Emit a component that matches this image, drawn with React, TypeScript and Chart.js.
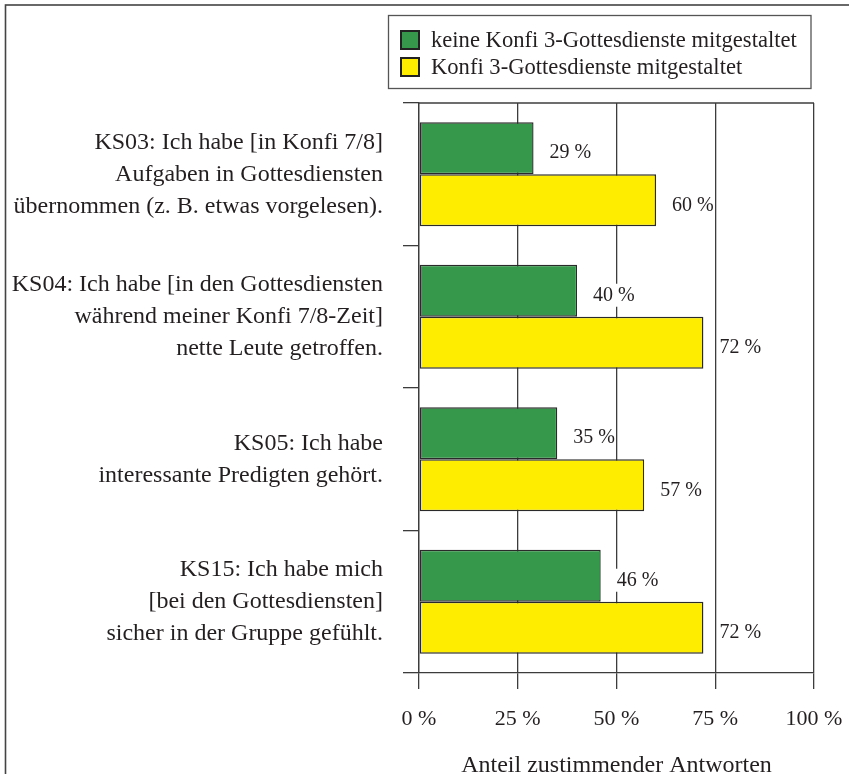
import { useEffect, useRef } from "react";
import { Chart, registerables } from "chart.js";

Chart.register(...registerables);

const categories: string[][] = [
  ["KS03: Ich habe [in Konfi 7/8]", "Aufgaben in Gottesdiensten", "übernommen (z. B. etwas vorgelesen)."],
  ["KS04: Ich habe [in den Gottesdiensten", "während meiner Konfi 7/8-Zeit]", "nette Leute getroffen."],
  ["KS05: Ich habe", "interessante Predigten gehört."],
  ["KS15: Ich habe mich", "[bei den Gottesdiensten]", "sicher in der Gruppe gefühlt."],
];
const seriesNames = ["keine Konfi 3-Gottesdienste mitgestaltet", "Konfi 3-Gottesdienste mitgestaltet"];
const noKonfi3Values = [29, 40, 35, 46];
const withKonfi3Values = [60, 72, 57, 72];
const xTickValues = [0, 25, 50, 75, 100];
const axisTitle = "Anteil zustimmender Antworten";

const FONT = '"Liberation Serif", "Times New Roman", serif';
const TEXT = "#231f20";
const LINE = "#3c3c3c";
const BAR_EDGE = "#2a2a2a";
const GREEN = "#36984a";
const YELLOW = "#ffed00";

const framePlugin = {
  id: "frame",
  beforeDraw(chart: any) {
    const { ctx, width, height } = chart;
    ctx.save();
    ctx.fillStyle = "#fff";
    ctx.fillRect(0, 0, width, height);
    ctx.strokeStyle = "#444";
    ctx.lineWidth = 1.6;
    ctx.strokeRect(5.5, 5, width + 20, height + 20);
    ctx.restore();
  },
  beforeDatasetsDraw(chart: any) {
    const { ctx, chartArea } = chart;
    ctx.save();
    ctx.strokeStyle = LINE;
    ctx.lineWidth = 1.3;
    ctx.beginPath();
    ctx.moveTo(chartArea.left, chartArea.top);
    ctx.lineTo(chartArea.right, chartArea.top);
    ctx.stroke();
    ctx.restore();
  },
};

const valueLabelPlugin = {
  id: "valueLabels",
  afterDatasetsDraw(chart: any) {
    const { ctx } = chart;
    ctx.save();
    ctx.font = `20px ${FONT}`;
    ctx.textBaseline = "middle";
    ctx.textAlign = "left";
    chart.data.datasets.forEach((ds: any, di: number) => {
      const meta = chart.getDatasetMeta(di);
      meta.data.forEach((bar: any, i: number) => {
        const txt = `${ds.data[i]} %`;
        const w = ctx.measureText(txt).width;
        const x = bar.x + 16;
        const y = bar.y + 5;
        ctx.fillStyle = "#fff";
        ctx.fillRect(x - 1, y - 12, w + 1.5, 23);
        ctx.fillStyle = TEXT;
        ctx.fillText(txt, x, y);
      });
    });
    ctx.restore();
  },
};

const legendPlugin = {
  id: "boxLegend",
  afterDraw(chart: any) {
    const { ctx, chartArea } = chart;
    const boxRight = chartArea.right - 3;
    const boxLeft = 388.5;
    const boxTop = 15.5;
    const boxH = 73;
    ctx.save();
    ctx.strokeStyle = "#555";
    ctx.lineWidth = 1.3;
    ctx.strokeRect(boxLeft, boxTop, boxRight - boxLeft, boxH);
    ctx.font = `22.6px ${FONT}`;
    ctx.textBaseline = "middle";
    ctx.textAlign = "left";
    chart.data.datasets.forEach((ds: any, i: number) => {
      const sy = 31 + i * 27;
      ctx.fillStyle = ds.backgroundColor;
      ctx.fillRect(401, sy, 18, 18);
      ctx.strokeStyle = "#222";
      ctx.lineWidth = 2;
      ctx.strokeRect(401, sy, 18, 18);
      ctx.fillStyle = TEXT;
      ctx.fillText(ds.label, 431, sy + 10);
    });
    ctx.restore();
  },
};

export default function App() {
  const ref = useRef<HTMLCanvasElement | null>(null);
  useEffect(() => {
    document.body.style.margin = "0";
    const canvas = ref.current;
    if (!canvas) return;
    const chart = new Chart(canvas, {
      type: "bar",
      data: {
        labels: categories,
        datasets: [
          {
            label: seriesNames[0],
            data: noKonfi3Values,
            backgroundColor: GREEN,
            borderColor: BAR_EDGE,
            borderWidth: 1.4,
            borderSkipped: false,
            categoryPercentage: 0.73,
            barPercentage: 1,
          },
          {
            label: seriesNames[1],
            data: withKonfi3Values,
            backgroundColor: YELLOW,
            borderColor: BAR_EDGE,
            borderWidth: 1.4,
            borderSkipped: false,
            categoryPercentage: 0.73,
            barPercentage: 1,
          },
        ],
      },
      options: {
        indexAxis: "y",
        responsive: false,
        animation: false,
        devicePixelRatio: 1,
        layout: { padding: { top: 103, right: 35, left: 0, bottom: 0 } },
        plugins: {
          legend: { display: false },
          tooltip: { enabled: false },
        },
        scales: {
          x: {
            type: "linear",
            min: 0,
            max: 100,
            afterBuildTicks(scale: any) {
              scale.ticks = xTickValues.map((v) => ({ value: v }));
            },
            afterFit(scale: any) {
              scale.height = 101;
              scale.paddingLeft = 0;
              scale.paddingRight = 0;
            },
            ticks: {
              color: TEXT,
              font: { family: FONT, size: 22 },
              padding: 17,
              callback: (v: any) => `${v} %`,
            },
            grid: {
              color: LINE,
              lineWidth: 1.3,
              drawOnChartArea: true,
              drawTicks: true,
              tickLength: 16,
            },
            border: { display: true, color: LINE, width: 1.3 },
            title: {
              display: true,
              text: axisTitle,
              color: TEXT,
              font: { family: FONT, size: 24, lineHeight: 1 },
              padding: { top: 0, bottom: -4 },
            },
          },
          y: {
            type: "category",
            afterFit(scale: any) {
              scale.width = 419;
              scale.paddingTop = 0;
              scale.paddingBottom = 0;
            },
            ticks: {
              color: TEXT,
              font: { family: FONT, size: 24, lineHeight: 1.333 },
              padding: 20,
            },
            grid: {
              offset: true,
              color: LINE,
              lineWidth: 1.3,
              drawOnChartArea: false,
              drawTicks: true,
              tickLength: 16,
            },
            border: { display: true, color: LINE, width: 1.3 },
          },
        },
      },
      plugins: [framePlugin, valueLabelPlugin, legendPlugin],
    } as any);
    return () => chart.destroy();
  }, []);
  return (
    <div style={{ width: 849, height: 774 }}>
      <canvas ref={ref} width={849} height={774} style={{ display: "block" }} />
    </div>
  );
}
